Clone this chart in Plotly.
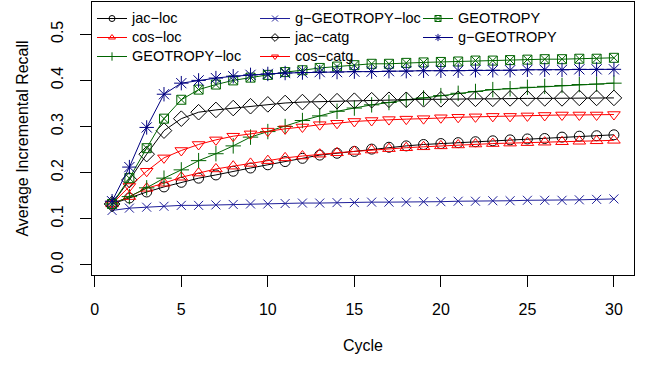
import plotly.graph_objects as go

cycles = list(range(1, 31))

jac_loc = [0.132, 0.145, 0.158, 0.169, 0.179, 0.188, 0.195, 0.203, 0.210, 0.217,
           0.224, 0.231, 0.238, 0.242, 0.246, 0.251, 0.255, 0.258, 0.261, 0.263,
           0.265, 0.267, 0.269, 0.271, 0.273, 0.274, 0.277, 0.279, 0.280, 0.282]
cos_loc = [0.132, 0.148, 0.166, 0.177, 0.190, 0.199, 0.208, 0.214, 0.220, 0.226,
           0.232, 0.236, 0.240, 0.243, 0.246, 0.249, 0.252, 0.254, 0.256, 0.258,
           0.260, 0.262, 0.263, 0.264, 0.265, 0.266, 0.267, 0.268, 0.269, 0.270]
geotropy_loc = [0.132, 0.148, 0.167, 0.188, 0.206, 0.226, 0.241, 0.258, 0.277, 0.289,
                0.300, 0.313, 0.323, 0.333, 0.340, 0.347, 0.352, 0.358, 0.362, 0.367,
                0.372, 0.376, 0.380, 0.382, 0.385, 0.387, 0.389, 0.391, 0.392, 0.394]
g_geotropy_loc = [0.118, 0.123, 0.125, 0.127, 0.129, 0.129, 0.130, 0.131, 0.132, 0.132,
                  0.133, 0.134, 0.134, 0.135, 0.135, 0.136, 0.136, 0.136, 0.137, 0.137,
                  0.138, 0.138, 0.139, 0.139, 0.140, 0.140, 0.140, 0.141, 0.142, 0.143]
jac_catg = [0.132, 0.184, 0.240, 0.291, 0.317, 0.331, 0.336, 0.340, 0.344, 0.348,
            0.351, 0.353, 0.354, 0.355, 0.356, 0.357, 0.358, 0.358, 0.359, 0.359,
            0.360, 0.360, 0.360, 0.361, 0.361, 0.361, 0.361, 0.362, 0.362, 0.362]
cos_catg = [0.132, 0.170, 0.203, 0.232, 0.248, 0.261, 0.271, 0.279, 0.284, 0.290,
            0.295, 0.299, 0.304, 0.307, 0.311, 0.313, 0.315, 0.316, 0.317, 0.319,
            0.320, 0.321, 0.322, 0.322, 0.323, 0.324, 0.325, 0.325, 0.325, 0.326]
geotropy = [0.132, 0.188, 0.253, 0.317, 0.358, 0.380, 0.391, 0.400, 0.406, 0.412,
            0.418, 0.422, 0.427, 0.430, 0.433, 0.436, 0.436, 0.438, 0.439, 0.440,
            0.441, 0.443, 0.443, 0.444, 0.445, 0.446, 0.446, 0.447, 0.447, 0.449]
g_geotropy = [0.138, 0.212, 0.298, 0.370, 0.394, 0.400, 0.405, 0.409, 0.412, 0.414,
              0.416, 0.417, 0.418, 0.418, 0.419, 0.419, 0.420, 0.420, 0.421, 0.421,
              0.421, 0.422, 0.422, 0.422, 0.423, 0.423, 0.423, 0.424, 0.424, 0.424]

x_ticks = [0, 5, 10, 15, 20, 25, 30]
y_ticks = [0.0, 0.1, 0.2, 0.3, 0.4, 0.5]

M = "\u2212"
# name, data, color, symbol, marker size
series = [
    ("jac" + M + "loc", jac_loc, "black", "circle-open", 10),
    ("cos" + M + "loc", cos_loc, "red", "triangle-up-open", 11),
    ("GEOTROPY" + M + "loc", geotropy_loc, "darkgreen", "cross-thin-open", 11),
    ("g" + M + "GEOTROPY" + M + "loc", g_geotropy_loc, "#1f1f9a", "x-thin-open", 9),
    ("jac" + M + "catg", jac_catg, "black", "diamond-open", 12),
    ("cos" + M + "catg", cos_catg, "red", "triangle-down-open", 11),
    ("GEOTROPY", geotropy, "darkgreen", "square-x-open", 9),
    ("g" + M + "GEOTROPY", g_geotropy, "#000080", "asterisk-open", 12),
]

fig = go.Figure()
for name, vals, col, sym, sz in series:
    fig.add_trace(go.Scatter(
        x=cycles, y=vals, mode="lines+markers", name=name, showlegend=False,
        line=dict(color=col, width=1),
        marker=dict(symbol=sym, size=sz, color=col, line=dict(color=col, width=1)),
    ))

# legend entries, filled column-wise like R's ncol=3 legend
order = [0, 3, 6, 1, 4, 7, 2, 5]
for i in order:
    name, vals, col, sym, sz = series[i]
    fig.add_trace(go.Scatter(
        x=[None], y=[None], mode="lines+markers",
        name="<span style='font-size:14.5px'>" + name + "</span>", showlegend=True,
        line=dict(color=col, width=1),
        marker=dict(symbol=sym, size=6, color=col, line=dict(color=col, width=1)),
    ))

font_family = "Liberation Sans, Arial, sans-serif"
fig.update_layout(
    width=648, height=365,
    margin=dict(l=92, r=14, t=2, b=90),
    paper_bgcolor="white", plot_bgcolor="white",
    font=dict(family=font_family, size=16, color="black"),
    showlegend=True,
    legend=dict(
        orientation="h", x=0, y=1 - 2 / 273, xanchor="left", yanchor="top",
        bgcolor="rgba(0,0,0,0)", borderwidth=0,
        font=dict(size=12, family=font_family),
        entrywidth=118, entrywidthmode="pixels",
        tracegroupgap=0, traceorder="normal",
    ),
    xaxis=dict(
        range=[-0.16, 31.16], tickvals=x_ticks, ticktext=[str(v) for v in x_ticks],
        showgrid=False, zeroline=False, showline=True, mirror=True,
        linecolor="black", linewidth=1,
        ticks="outside", ticklen=11, tickcolor="black", tickwidth=1,
        ticklabelstandoff=9,
        title=dict(text="Cycle", standoff=22, font=dict(size=16)),
    ),
    yaxis=dict(
        range=[-0.022, 0.570], tickvals=y_ticks, ticktext=["%.1f" % v for v in y_ticks],
        tickangle=-90,
        showgrid=False, zeroline=False, showline=True, mirror=True,
        linecolor="black", linewidth=1,
        ticks="outside", ticklen=11, tickcolor="black", tickwidth=1,
        ticklabelstandoff=11,
        title=dict(text="Average Incremental Recall", standoff=15, font=dict(size=16)),
    ),
)

fig.write_html("out.html")
